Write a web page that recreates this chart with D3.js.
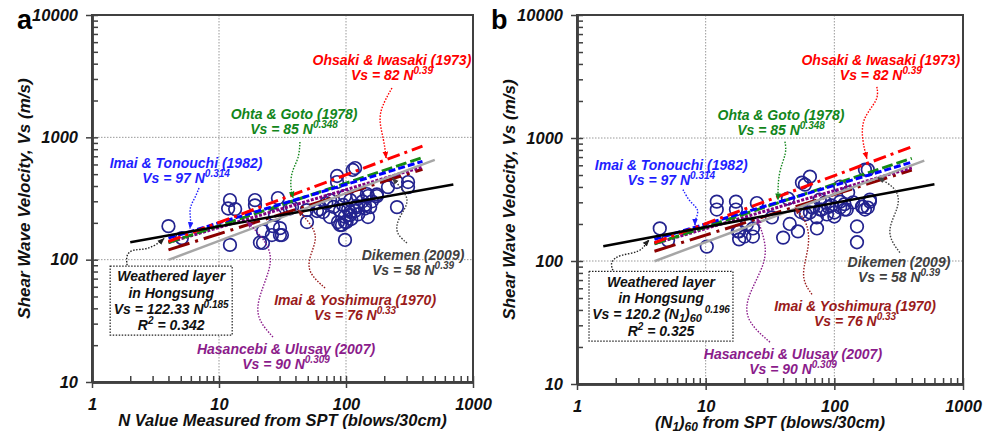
<!DOCTYPE html>
<html>
<head>
<meta charset="utf-8">
<script src="https://cdn.jsdelivr.net/npm/d3@7"></script>
<style>
  body { margin: 0; background: #fff; }
  text { font-family: "Liberation Sans", Arial, sans-serif; font-weight: bold; font-style: italic; }
</style>
</head>
<body>
<svg id="chart" width="997" height="435"></svg>
<script>
// measured points, panel a: N value vs Vs
const nA = [4.0, 5.1, 12.2, 11.8, 13.4, 12.2, 19.2, 19.2, 22.2, 26.6, 30.2, 26.1, 30.2, 21.0, 27.6, 29.1,
  36, 49.3, 49, 59.1, 62.4, 74.8, 75, 85, 85, 89.7, 86.5, 89.7, 98.2, 98.2, 98, 108, 113, 118, 122, 124,
  141, 146, 149, 149, 155, 175, 175, 104, 118, 214, 252, 308, 308, 252, 37.6, 22.2, 31.3, 93, 98, 108, 141, 66,
  101, 108, 121, 135, 160, 95, 80, 70, 110, 125];
const vsA = [188, 150, 307, 262, 259, 132, 307, 278, 171, 188, 181, 159, 159, 138, 232, 319,
  262, 203, 254, 250, 258, 223, 307, 483, 431, 250, 203, 192, 203, 145, 331, 307, 541, 561, 269, 331,
  279, 344, 331, 223, 269, 342, 331, 259, 250, 392, 431, 431, 392, 269, 269, 137, 159, 192, 225, 232, 262, 245,
  203, 245, 275, 300, 300, 280, 270, 290, 215, 235];

// measured points, panel b: (N1)60 vs Vs
const n60B = [4.4, 5.1, 10.2, 12.2, 12.2, 17.2, 17.2, 25, 18.2, 20.9, 23.3, 18.2, 23.3, 64.6, 56, 173, 182,
  111, 43.6, 128, 150, 150, 52.1, 73.3, 64.6, 77.3, 87.6, 67, 111, 120, 164, 189, 182, 173, 111, 80, 73,
  32.7, 20, 95, 100, 140, 60, 85,
  59.1, 189, 77, 68.5, 125, 166, 17.8, 40, 45, 90, 100, 55, 120];
const vsB = [184, 147, 131, 304, 262, 304, 262, 296, 174, 198, 184, 150, 158, 485, 434, 553, 553,
  403, 322, 360, 191, 142, 174, 184, 248, 262, 239, 272, 272, 262, 277, 304, 272, 262, 304, 262, 226,
  226, 158, 283, 248, 300, 240, 300,
  418, 316, 316, 272, 262, 277, 174, 155, 200, 275, 230, 250, 290];

// published correlations Vs = a N^b
const corrNames = ["Imai & Yoshimura (1970)", "Hasancebi & Ulusay (2007)", "Dikemen (2009)",
  "Ohta & Goto (1978)", "Imai & Tonouchi (1982)", "Ohsaki & Iwasaki (1973)"];
const corrCoef = [76, 90, 58, 85, 97, 82];
const corrExp = [0.33, 0.309, 0.39, 0.348, 0.314, 0.39];
const corrNMin = [4, 4, 4, 4, 4, 4];
const corrNMax = [400, 400, 500, 400, 400, 400];

// regression for weathered layer in Hongsung
const regCoef = [122.33, 120.2];
const regExp = [0.185, 0.196];
const regR2 = ["0.342", "0.325"];
const regNMin = [2, 1.6];
const regNMax = [700, 600];

const xMajor = [1, 10, 100, 1000];
const yMajor = [10, 100, 1000, 10000];

const corrStyle = [
  { line: "#8b0000", text: "#9a1b1b", dash: "22,6,3,6", w: 3 },
  { line: "#800080", text: "#8b1c8b", dash: "3,1.5", w: 3 },
  { line: "#a6a6a6", text: "#404040", dash: null, w: 2.5 },
  { line: "#158a15", text: "#12861b", dash: "11,4", w: 3 },
  { line: "#0000ff", text: "#1f1fff", dash: "7,3", w: 3 },
  { line: "#ff0000", text: "#ff0000", dash: "13,5,3,5", w: 3 }
];

const svg = d3.select("#chart");
const defs = svg.append("defs");
const colors = corrStyle.map(s => s.text).concat(["#222222"]);
colors.forEach((c, i) => {
  defs.append("marker").attr("id", "ah" + i)
    .attr("viewBox", "0 0 10 10").attr("refX", 9).attr("refY", 5)
    .attr("markerWidth", 7).attr("markerHeight", 7).attr("markerUnits", "userSpaceOnUse")
    .attr("orient", "auto")
    .append("path").attr("d", "M0,1L10,5L0,9Z").attr("fill", c);
});

// append text pieces, with super/subscripts shifted by dy
function richText(sel, parts) {
  let shift = 0;
  parts.forEach(pt => {
    const target = pt.sup ? -6 : pt.sub ? 3 : 0;
    const t = sel.append("tspan").text(pt.t);
    if (target !== shift) t.attr("dy", target - shift);
    if (pt.sup || pt.sub) t.attr("font-size", pt.size || 10);
    shift = target;
  });
}

const panels = [
  {
    letter: "a", letterX: 17, left: 92, right: 473, top: 15, bottom: 382,
    n: nA, vs: vsA, varName: "N",
    xTitle: [{ t: "N Value Measured from SPT (blows/30cm)" }],
    labels: [[118, 46.8], [33.7, 18.6], [337, 109], [39, 1550], [5.5, 617], [230, 4285]],
    arrows: [
      [[68.4, 58.6], [49.3, 79.2], [52.1, 109], [60.2, 153], [52.1, 199], [41.9, 255]],
      [[26.6, 23.3], [19.2, 34], [21, 53.3], [26.6, 93.8], [24.3, 137], [16.6, 205]],
      [[302, 137], [243, 165], [257, 219], [319, 296], [281, 371], [232, 465]],
      [[43.4, 916], [42.7, 678], [37.6, 541], [36.2, 407], [38.3, 320]],
      [[6.96, 385], [6.47, 319], [5.8, 264], [6.02, 211], [5.91, 180]],
      [[230, 2530], [199, 1944], [179, 1438], [199, 950], [207, 678]]
    ],
    box: [[1.39, 88.7], [12.7, 24.2]],
    boxArrow: [[1.89, 90], [1.85, 109], [2.07, 122], [2.71, 120], [3.43, 139], [3.69, 149]],
    eq: [{ t: "Vs = 122.33 N" }, { t: "0.185", sup: true }]
  },
  {
    letter: "b", letterX: 491, left: 577, right: 963, top: 15, bottom: 384,
    n: n60B, vs: vsB, varName: "N",
    xTitle: [{ t: "(N" }, { t: "1", sub: true, size: 12 }, { t: ")" }, { t: "60", sub: true, size: 12 }, { t: " from SPT (blows/30cm)" }],
    labels: [[145, 42.8], [47.7, 17.5], [318, 97.5], [38.5, 1545], [5.4, 607], [230, 4315]],
    arrows: [
      [[67, 53.6], [54, 73.6], [64.6, 131], [62.4, 206], [49.4, 270]],
      [[31.6, 21.9], [20.9, 31.8], [20.2, 48.8], [29.9, 97.5], [28.9, 150], [25, 225]],
      [[323, 117], [247, 171], [323, 277], [312, 381], [234, 459], [218, 475]],
      [[41.3, 933], [42.8, 760], [36.5, 523], [36.5, 315]],
      [[6.66, 381], [7.55, 299], [9.03, 262], [8.26, 215], [8.26, 196]],
      [[214, 2606], [222, 2044], [164, 1461], [164, 969], [179, 680]]
    ],
    box: [[1.24, 82.4], [16.3, 22.3]],
    boxArrow: [[1.9, 84], [1.8, 99], [2.16, 113], [3.09, 117], [3.5, 142], [3.63, 148]],
    eq: [{ t: "Vs = 120.2 (N" }, { t: "1", sub: true, size: 11 }, { t: ")" }, { t: "60", sub: true, size: 11 }, { t: " 0.196", sup: true }]
  }
];

panels.forEach((p, pi) => {
  const x = d3.scaleLog().domain([1, 1000]).range([p.left, p.right]);
  const y = d3.scaleLog().domain([10, 10000]).range([p.bottom, p.top]);
  const g = svg.append("g");

  // grid lines
  [10, 100].forEach(v => g.append("line")
    .attr("x1", x(v)).attr("x2", x(v)).attr("y1", p.top).attr("y2", p.bottom)
    .attr("stroke", "#999").attr("stroke-width", 1).attr("stroke-dasharray", "1.5,1.5"));
  [100, 1000].forEach(v => g.append("line")
    .attr("x1", p.left).attr("x2", p.right).attr("y1", y(v)).attr("y2", y(v))
    .attr("stroke", "#999").attr("stroke-width", 1).attr("stroke-dasharray", "1.5,1.5"));

  // frame
  g.append("rect").attr("x", p.left).attr("y", p.top)
    .attr("width", p.right - p.left).attr("height", p.bottom - p.top)
    .attr("fill", "none").attr("stroke", "#404040").attr("stroke-width", 2);

  // minor ticks list
  const minorX = [], minorY = [];
  [1, 10, 100].forEach(d => { for (let k = 2; k <= 9; k++) minorX.push(d * k); });
  [10, 100, 1000].forEach(d => { for (let k = 2; k <= 9; k++) minorY.push(d * k); });

  // inward ticks
  const xIn = g.append("g").attr("transform", `translate(0,${p.bottom})`)
    .call(d3.axisBottom(x).tickValues(minorX.concat(xMajor)).tickSize(-6).tickSizeOuter(0).tickFormat(""));
  const yIn = g.append("g").attr("transform", `translate(${p.left},0)`)
    .call(d3.axisLeft(y).tickValues(minorY.concat(yMajor)).tickSize(-6).tickSizeOuter(0).tickFormat(""));
  // outward major ticks with labels
  const xOut = g.append("g").attr("transform", `translate(0,${p.bottom})`)
    .call(d3.axisBottom(x).tickValues(xMajor).tickSize(6).tickSizeOuter(0).tickPadding(10).tickFormat(d3.format("d")));
  const yOut = g.append("g").attr("transform", `translate(${p.left},0)`)
    .call(d3.axisLeft(y).tickValues(yMajor).tickSize(6).tickSizeOuter(0).tickPadding(8).tickFormat(d3.format("d")));
  [xIn, yIn, xOut, yOut].forEach(a => {
    a.attr("font-family", null).attr("font-size", null);
    a.selectAll(".tick line").attr("stroke", "#404040").attr("stroke-width", 1.5);
    a.select(".domain").attr("stroke", "#404040").attr("stroke-width", 2.5);
    a.selectAll("text").attr("fill", "#111").attr("font-size", 16.5);
  });

  // axis titles
  const xt = g.append("text").attr("x", (p.left + p.right) / 2).attr("y", p.bottom + 44)
    .attr("text-anchor", "middle").attr("font-size", 16.5).attr("fill", "#111");
  richText(xt, p.xTitle);
  g.append("text").attr("transform", `translate(${p.left - 62},${(p.top + p.bottom) / 2}) rotate(-90)`)
    .attr("text-anchor", "middle").attr("font-size", 17).attr("fill", "#111")
    .text("Shear Wave Velocity, Vs (m/s)");
  g.append("text").attr("x", p.letterX).attr("y", 29).attr("font-size", 27)
    .style("font-style", "normal").attr("fill", "#000").text(p.letter);

  // measured points
  g.append("g").selectAll("circle").data(d3.zip(p.n, p.vs)).join("circle")
    .attr("cx", d => x(d[0])).attr("cy", d => y(d[1])).attr("r", 6.3)
    .attr("fill", "none").attr("stroke", "#23238f").attr("stroke-width", 1.7);

  const line = d3.line().x(d => x(d[0])).y(d => y(d[1]));
  const arrowLine = d3.line().x(d => x(d[0])).y(d => y(d[1])).curve(d3.curveBasis);

  // correlation lines
  corrNames.forEach((name, i) => {
    const s = corrStyle[i];
    const pts = [corrNMin[i], corrNMax[i]].map(n => [n, corrCoef[i] * Math.pow(n, corrExp[i])]);
    g.append("path").attr("d", line(pts)).attr("fill", "none")
      .attr("stroke", s.line).attr("stroke-width", s.w)
      .attr("stroke-dasharray", s.dash);
  });
  // regression line
  const rp = [regNMin[pi], regNMax[pi]].map(n => [n, regCoef[pi] * Math.pow(n, regExp[pi])]);
  g.append("path").attr("d", line(rp)).attr("fill", "none").attr("stroke", "#000").attr("stroke-width", 2.5);

  // labels and arrows
  corrNames.forEach((name, i) => {
    const s = corrStyle[i];
    const [ln, lv] = p.labels[i];
    const cx = x(ln), cy = y(lv) + 5;
    g.append("text").attr("x", cx).attr("y", cy)
      .attr("text-anchor", "middle").attr("font-size", 14).attr("fill", s.text).text(name);
    const t2 = g.append("text").attr("x", cx).attr("y", cy + 15)
      .attr("text-anchor", "middle").attr("font-size", 14).attr("fill", s.text);
    richText(t2, [{ t: "Vs = " + corrCoef[i] + " " + p.varName }, { t: String(corrExp[i]), sup: true }]);
    g.append("path").attr("d", arrowLine(p.arrows[i])).attr("fill", "none")
      .attr("stroke", s.text).attr("stroke-width", 1.4).attr("stroke-dasharray", "1.5,1.5")
      .attr("marker-end", `url(#ah${i})`);
  });

  // regression box
  const bx0 = x(p.box[0][0]), by0 = y(p.box[0][1]), bx1 = x(p.box[1][0]), by1 = y(p.box[1][1]);
  g.append("rect").attr("x", bx0).attr("y", by0).attr("width", bx1 - bx0).attr("height", by1 - by0)
    .attr("fill", "#fff").attr("stroke", "#222").attr("stroke-width", 1.2).attr("stroke-dasharray", "1.5,1.5");
  const bcx = (bx0 + bx1) / 2, step = (by1 - by0) / 4.3;
  const boxLines = [[{ t: "Weathered layer" }], [{ t: "in Hongsung" }], p.eq,
    [{ t: "R" }, { t: "2", sup: true }, { t: " = " + regR2[pi] }]];
  boxLines.forEach((parts, k) => {
    const t = g.append("text").attr("x", bcx).attr("y", by0 + step * (k + 0.65) + 5)
      .attr("text-anchor", "middle").attr("font-size", 14).attr("fill", "#111");
    richText(t, parts);
  });
  g.append("path").attr("d", arrowLine(p.boxArrow)).attr("fill", "none")
    .attr("stroke", "#222").attr("stroke-width", 1.4).attr("stroke-dasharray", "1.5,1.5")
    .attr("marker-end", "url(#ah6)");
});
</script>
</body>
</html>
